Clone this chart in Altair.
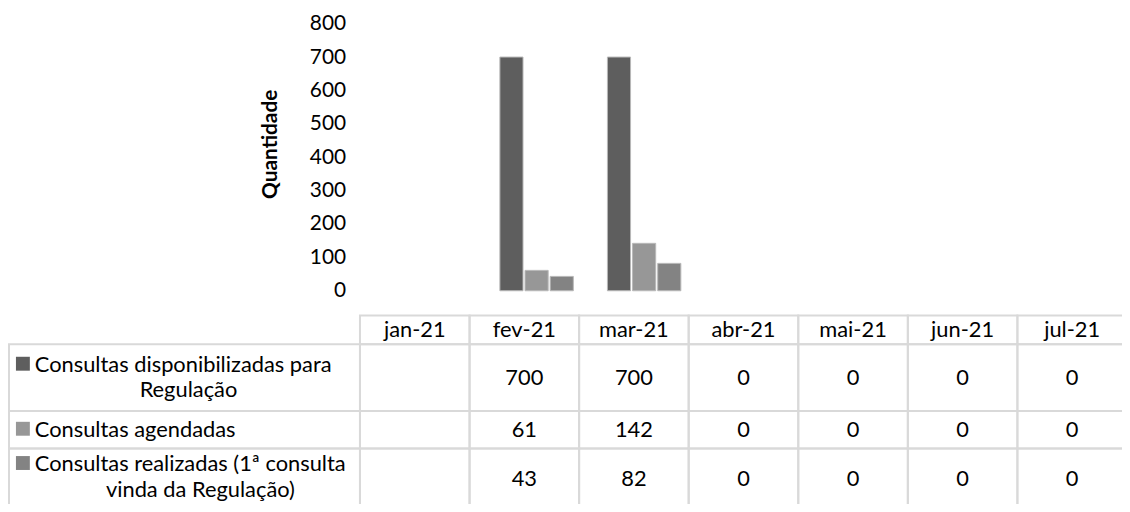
import altair as alt
import pandas as pd

months = ["jan-21", "fev-21", "mar-21", "abr-21", "mai-21", "jun-21", "jul-21"]
series = [
    "Consultas disponibilizadas para Regulação",
    "Consultas agendadas",
    "Consultas realizadas (1ª consulta vinda da Regulação)",
]
series_lines = [
    ["Consultas disponibilizadas para", "Regulação"],
    ["Consultas agendadas"],
    ["Consultas realizadas (1ª consulta", "vinda da Regulação)"],
]
disponibilizadas = [None, 700, 700, 0, 0, 0, 0]
agendadas = [None, 61, 142, 0, 0, 0, 0]
realizadas = [None, 43, 82, 0, 0, 0, 0]
colors = ["#5e5e5e", "#979797", "#838383"]

values = [disponibilizadas, agendadas, realizadas]
FONT = "Lato"
FS = 21
TFS = 22

# ---------- bar data ----------
rows = []
for s, vals in zip(series, values):
    for m, v in zip(months, vals):
        rows.append({"mes": m, "serie": s, "valor": v})
df = pd.DataFrame(rows)
bars_df = df[df["valor"].notna() & (df["valor"] > 0)]

color = alt.Color("serie:N", scale=alt.Scale(domain=series, range=colors), legend=None)

bars = alt.Chart(bars_df).mark_bar(stroke="#b8b8b8", strokeWidth=1).encode(
    x=alt.X("mes:N", sort=months, axis=None,
            scale=alt.Scale(domain=months, range=[0, 758], paddingInner=0.317, paddingOuter=0.158)),
    xOffset=alt.XOffset("serie:N", sort=series, scale=alt.Scale(domain=series, paddingInner=0.08)),
    y=alt.Y("valor:Q", scale=alt.Scale(domain=[0, 800]),
            axis=alt.Axis(values=list(range(0, 801, 100)), ticks=False, domain=False, grid=False,
                          labelPadding=30, labelFont=FONT, labelFontSize=FS, labelColor="#000000",
                          title="Quantidade", titleFont=FONT, titleFontSize=FS, titleFontWeight="bold",
                          titleColor="#000000", titleX=-100, titleY=121, titleAngle=270,
                          titleBaseline="alphabetic", titleAlign="center")),
    color=color,
)

# ---------- table layout ----------
COLW = 110.36
LW = 353.5 / COLW          # label column width in month-column units
HEADER_H = 29
LINE_H = 29
PAD = 9
bounds = [0, HEADER_H]
for lines in series_lines:
    bounds.append(bounds[-1] + PAD + LINE_H * len(lines))
total_h = bounds[-1]

tx = alt.Scale(domain=[-LW, 7], range=[-369, -15.5 + 7 * COLW])
ty = alt.Scale(domain=[0, total_h], range=[294, 294 + total_h])

cells = []
for i, m in enumerate(months):
    cells.append({"x": i, "x2": i + 1, "y": 0, "y2": HEADER_H})
for r in range(len(series)):
    cells.append({"x": -LW, "x2": 0, "y": bounds[r + 1], "y2": bounds[r + 2]})
    for i in range(len(months)):
        cells.append({"x": i, "x2": i + 1, "y": bounds[r + 1], "y2": bounds[r + 2]})
cells_df = pd.DataFrame(cells)

grid = alt.Chart(cells_df).mark_rect(fill="#ffffff", fillOpacity=0, stroke="#d9d9d9", strokeWidth=2).encode(
    x=alt.X("x:Q", scale=tx, axis=None),
    x2="x2:Q",
    y=alt.Y("y:Q", scale=ty, axis=None),
    y2="y2:Q",
)

header_df = pd.DataFrame({"x": [i + 0.5 for i in range(len(months))],
                          "y": [HEADER_H / 2] * len(months), "t": months})
header = alt.Chart(header_df).mark_text(font=FONT, fontSize=TFS, color="#000000", baseline="middle").encode(
    x=alt.X("x:Q", scale=tx, axis=None), y=alt.Y("y:Q", scale=ty, axis=None), text="t:N")

last = len(series) - 1
vals = []
for r, vlist in enumerate(values):
    mid = (bounds[r + 1] + bounds[r + 2]) / 2 - (3 if r == last else 0)
    for i, v in enumerate(vlist):
        vals.append({"x": i + 0.5, "y": mid, "t": "" if v is None else str(int(v))})
vals_df = pd.DataFrame(vals)
valtext = alt.Chart(vals_df).mark_text(font=FONT, fontSize=TFS, color="#000000", baseline="middle").encode(
    x=alt.X("x:Q", scale=tx, axis=None), y=alt.Y("y:Q", scale=ty, axis=None), text="t:N")

TEXT_LH = 26
l1, l2, sq = [], [], []
for r, lines in enumerate(series_lines):
    mid = (bounds[r + 1] + bounds[r + 2]) / 2 - (5 if r == last else 0)
    n = len(lines)
    y1 = mid - (n - 1) * TEXT_LH / 2
    l1.append({"x": -LW, "y": y1, "t": lines[0]})
    sq.append({"x": -LW + 14 / COLW, "y": y1 - 1, "serie": series[r]})
    if n > 1:
        l2.append({"x": -LW / 2 + (4 + 6 * r) / COLW, "y": y1 + TEXT_LH, "t": lines[1]})

line1 = alt.Chart(pd.DataFrame(l1)).mark_text(font=FONT, fontSize=TFS, color="#000000", baseline="middle",
                                               align="left", dx=26).encode(
    x=alt.X("x:Q", scale=tx, axis=None), y=alt.Y("y:Q", scale=ty, axis=None), text="t:N")
line2 = alt.Chart(pd.DataFrame(l2)).mark_text(font=FONT, fontSize=TFS, color="#000000", baseline="middle",
                                               align="center").encode(
    x=alt.X("x:Q", scale=tx, axis=None), y=alt.Y("y:Q", scale=ty, axis=None), text="t:N")
squares = alt.Chart(pd.DataFrame(sq)).mark_point(shape="square", filled=True, size=196, opacity=1).encode(
    x=alt.X("x:Q", scale=tx, axis=None), y=alt.Y("y:Q", scale=ty, axis=None), color=color)

chart = alt.layer(bars, grid, header, valtext, line1, line2, squares).resolve_scale(
    x="independent", y="independent"
).properties(
    width=752, height=269,
    padding={"left": 370, "top": 14, "right": 0, "bottom": 213},
    autosize="none",
    background="#ffffff",
).configure_view(stroke=None)

chart.save("out.html", embed_options={"renderer": "svg", "actions": False})
